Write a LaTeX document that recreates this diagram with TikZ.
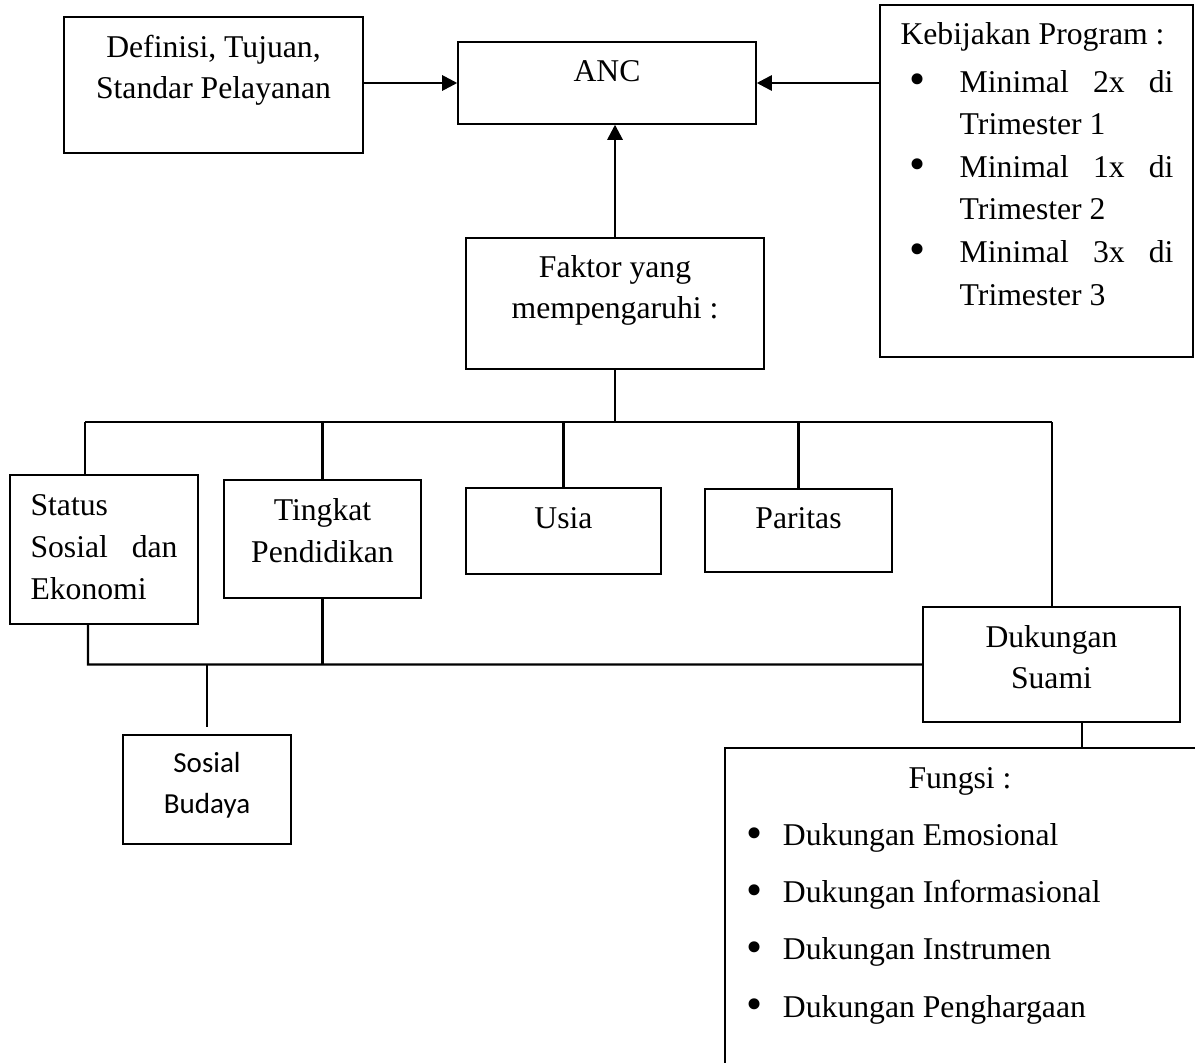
\documentclass[tikz,border=0pt]{standalone}
\usepackage{graphicx}
\usepackage{fontspec}
\setmainfont{Liberation Serif}
\newfontfamily\calibri{Carlito}
\usetikzlibrary{positioning, fit, arrows.meta}

\newcommand{\bigbul}{\raisebox{-0.9pt}{\scalebox{1.45}{\textbullet}}}

\tikzset{
  box/.style={draw, line width=0.55pt, inner sep=0pt},
  txt/.style={inner sep=0pt, align=center, font=\fontsize{12}{15.8}\selectfont},
  link/.style={line width=0.8pt},
  arr/.style={line width=1pt, -{Triangle[length=5.7pt, width=5.7pt]}}
}

\begin{document}
\begin{tikzpicture}[x=0.3788pt, y=-0.3788pt]
  \useasboundingbox (0,0) rectangle (1195,1062);
  \clip (0,0) rectangle (1195,1062);

  % Definisi
  \node[box, fit={(64,17) (363,153)}] (def) {};
  \node[txt, anchor=base] (deft) at (213.5,99) {Definisi, Tujuan,\\Standar Pelayanan};

  % ANC
  \node[box, fit={(458,42) (756,124)}] (anc) {};
  \node[txt, anchor=base] (anct) at (607,82) {ANC};

  % Kebijakan Program
  \node[box, fit={(880,5) (1193,357)}] (keb) {};
  \node[txt, anchor=base west] (kebt) at (900,45) {Kebijakan Program :};
  \node[txt, anchor=base west, align=left, font=\fontsize{12}{16.1}\selectfont] (kebl) at (909,305)
    {\makebox[19pt][l]{\bigbul}\makebox[81pt][s]{Minimal 2x di}\\
     \makebox[19pt]{}Trimester 1\\
     \makebox[19pt][l]{\bigbul}\makebox[81pt][s]{Minimal 1x di}\\
     \makebox[19pt]{}Trimester 2\\
     \makebox[19pt][l]{\bigbul}\makebox[81pt][s]{Minimal 3x di}\\
     \makebox[19pt]{}Trimester 3};

  % Faktor
  \node[box, fit={(466,238) (764,369)}] (fak) {};
  \node[txt, anchor=base, font=\fontsize{12}{15.2}\selectfont] (fakt) at (615,318) {Faktor yang\\mempengaruhi :};

  % Arrows to ANC
  \draw[arr] (def.east |- anc.west) -- (anc.west);
  \draw[arr] (keb.west |- anc.east) -- (anc.east);
  \draw[arr] (fak.north) -- (fak.north |- anc.south);

  % Faktor items
  \node[box, fit={(10,475) (198,624)}] (stat) {};
  \node[txt, anchor=base west, align=left, font=\fontsize{12}{15.9}\selectfont] (statt) at (30,599)
    {Status\\\makebox[55.7pt][s]{Sosial dan}\\Ekonomi};

  \node[box, fit={(224,480) (421,598)}] (ting) {};
  \node[txt, anchor=base] (tingt) at (322.5,562) {Tingkat\\Pendidikan};

  \node[box, fit={(466,488) (661,574)}] (usia) {};
  \node[txt, anchor=base] (usiat) at (563.5,528) {Usia};

  \node[box, fit={(705,489) (892,572)}] (par) {};
  \node[txt, anchor=base] (part) at (798.5,528) {Paritas};

  \node[box, fit={(923,607) (1180,722)}] (duk) {};
  \node[txt, anchor=base, font=\fontsize{12}{15.5}\selectfont] (dukt) at (1051.5,688) {Dukungan\\Suami};

  % Sosial Budaya
  \node[box, fit={(123,735) (291,844)}] (sos) {};
  \node[txt, anchor=base, font=\calibri\fontsize{11}{15.2}\selectfont] (sost) at (207,813) {Sosial\\Budaya};

  % Fungsi
  \node[box, fit={(725,748) (1240,1100)}] (fun) {};
  \node[txt, anchor=base] (funt) at (960,788) {Fungsi :};
  \node[txt, anchor=base west, align=left, font=\fontsize{12}{21.6}\selectfont] (funl) at (746,1017)
    {\makebox[13.8pt][l]{\bigbul}Dukungan Emosional\\
     \makebox[13.8pt][l]{\bigbul}Dukungan Informasional\\
     \makebox[13.8pt][l]{\bigbul}Dukungan Instrumen\\
     \makebox[13.8pt][l]{\bigbul}Dukungan Penghargaan};

  % Upper bus
  \coordinate (btl) at (85,422);
  \coordinate (btr) at (1052,422);
  \draw[link] (fak.south) -- (fak.south |- btl);
  \draw[link] (btl) -- (btr);
  \draw[link] (btl) -- (btl |- stat.north);
  \draw[link] (ting.north |- btl) -- (ting.north);
  \draw[link] (usia.north |- btl) -- (usia.north);
  \draw[link] (par.north |- btl) -- (par.north);
  \draw[link] (btr) -- (btr |- duk.north);

  % Lower bus
  \coordinate (bbl) at (88,664.5);
  \draw[link] (bbl |- stat.south) -- (bbl) -- (duk.west);
  \draw[link] (ting.south) -- (ting.south |- bbl);
  \draw[link, line width=1pt, shorten >=2.6pt] (sos.north |- bbl) -- (sos.north);

  % Dukungan to Fungsi
  \coordinate (dukf) at ([xshift=11.7pt]duk.south);
  \draw[link] (dukf) -- (dukf |- fun.north);
\end{tikzpicture}
\end{document}
